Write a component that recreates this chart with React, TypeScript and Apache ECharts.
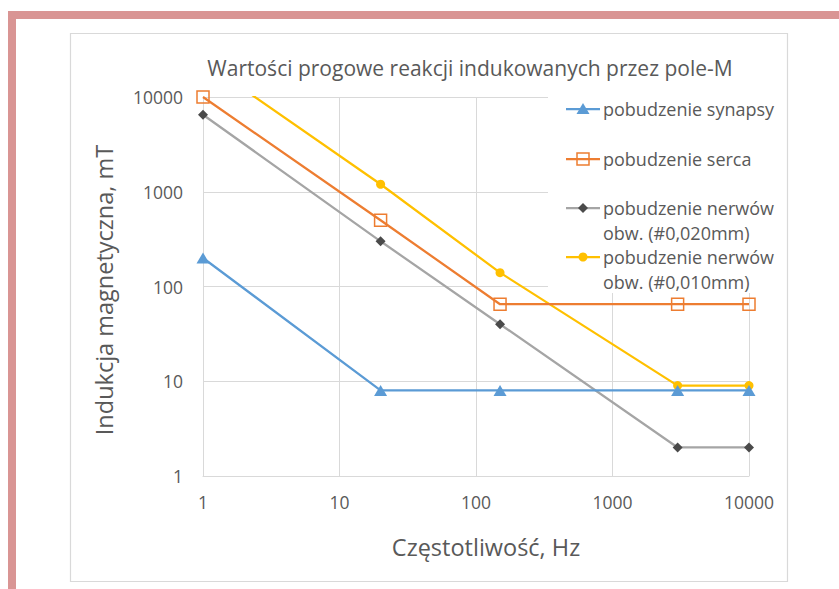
import React, { useEffect, useRef } from "react";
import * as echarts from "echarts";

const freqs = [1, 20, 150, 3000, 10000];
const synapsy = [200, 8, 8, 8, 8];
const serca = [10000, 500, 65, 65, 65];
const nerwy020 = [6500, 300, 40, 2, 2];
const nerwy010 = [24000, 1200, 140, 9, 9];

const seriesNames = [
  "pobudzenie synapsy",
  "pobudzenie serca",
  "pobudzenie nerwów\nobw. (#0,020mm)",
  "pobudzenie nerwów\nobw. (#0,010mm)",
];
const titleText = "Wartości progowe reakcji indukowanych przez pole-M";
const xName = "Częstotliwość, Hz";
const yName = "Indukcja magnetyczna, mT";

const FONT = "'Open Sans', 'Noto Sans', sans-serif";
const TXT = "#595959";
const BLUE = "#5B9BD5";
const ORANGE = "#ED7D31";
const GRAY = "#A5A5A5";
const DARK = "#4a4a4a";
const YELLOW = "#FFC000";

const pairs = (ys: number[]) => freqs.map((f, i) => [f, ys[i]]);

export default function App() {
  const ref = useRef<HTMLDivElement>(null);
  useEffect(() => {
    if (!ref.current) return;
    const chart = echarts.init(ref.current, null, { renderer: "svg" });

    const legendYs = [109, 159, 208, 257];
    const legendItems: any[] = [
      {
        type: "rect",
        shape: { x: 548, y: 86, width: 236, height: 207 },
        style: { fill: "#ffffff" },
        z: 1,
        silent: true,
      },
    ];
    const lx1 = 566, lx2 = 600, mx = 583, tx = 603;
    const lineColors = [BLUE, ORANGE, GRAY, YELLOW];
    legendYs.forEach((y, i) => {
      legendItems.push({
        type: "line",
        shape: { x1: lx1, y1: y, x2: lx2, y2: y },
        style: { stroke: lineColors[i], lineWidth: 2.25 },
        z: 5,
      });
      if (i === 0) {
        legendItems.push({
          type: "polygon",
          shape: { points: [[mx, y - 6], [mx + 6.5, y + 5], [mx - 6.5, y + 5]] },
          style: { fill: BLUE },
          z: 6,
        });
      } else if (i === 1) {
        legendItems.push({
          type: "rect",
          shape: { x: mx - 6, y: y - 6, width: 12, height: 12 },
          style: { fill: "transparent", stroke: ORANGE, lineWidth: 1.5 },
          z: 6,
        });
      } else if (i === 2) {
        legendItems.push({
          type: "polygon",
          shape: { points: [[mx, y - 5], [mx + 5, y], [mx, y + 5], [mx - 5, y]] },
          style: { fill: DARK },
          z: 6,
        });
      } else {
        legendItems.push({
          type: "circle",
          shape: { cx: mx, cy: y, r: 4.5 },
          style: { fill: YELLOW },
          z: 6,
        });
      }
      legendItems.push({
        type: "text",
        x: tx,
        y: y - 12.5,
        z: 6,
        style: {
          text: seriesNames[i],
          font: `18px ${FONT}`,
          fill: TXT,
          lineHeight: 25,
          verticalAlign: "top",
          align: "left",
        },
      });
    });

    const fmt = (v: number) => String(v);

    const option: any = {
      animation: false,
      backgroundColor: "#ffffff",
      grid: { left: 203, top: 97, width: 546, height: 379, containLabel: false },
      xAxis: {
        type: "log",
        logBase: 10,
        min: 1,
        max: 10000,
        axisLine: { show: true, lineStyle: { color: "#D9D9D9", width: 1 } },
        axisTick: { show: false },
        splitLine: { show: true, lineStyle: { color: "#D9D9D9", width: 1 } },
        minorTick: { show: false },
        axisLabel: { color: TXT, fontSize: 17.5, fontFamily: FONT, margin: 17, formatter: fmt },
      },
      yAxis: {
        type: "log",
        logBase: 10,
        min: 1,
        max: 10000,
        axisLine: { show: true, lineStyle: { color: "#D9D9D9", width: 1 } },
        axisTick: { show: false },
        splitLine: { show: true, lineStyle: { color: "#D9D9D9", width: 1 } },
        axisLabel: { color: TXT, fontSize: 17.5, fontFamily: FONT, margin: 20, formatter: fmt },
      },
      series: [
        {
          name: seriesNames[0],
          type: "line",
          data: pairs(synapsy),
          symbol: "triangle",
          symbolSize: [13, 11],
          lineStyle: { color: BLUE, width: 2.25 },
          itemStyle: { color: BLUE },
          z: 4,
        },
        {
          name: seriesNames[1],
          type: "line",
          data: pairs(serca),
          symbol: "rect",
          symbolSize: 12,
          lineStyle: { color: ORANGE, width: 2.25 },
          itemStyle: { color: "rgba(0,0,0,0)", borderColor: ORANGE, borderWidth: 1.5 },
          z: 3,
        },
        {
          name: seriesNames[2],
          type: "line",
          data: pairs(nerwy020),
          symbol: "diamond",
          symbolSize: 10,
          lineStyle: { color: GRAY, width: 2.25 },
          itemStyle: { color: DARK },
          z: 2,
        },
        {
          name: seriesNames[3],
          type: "line",
          data: pairs(nerwy010),
          symbol: "circle",
          symbolSize: 9,
          lineStyle: { color: YELLOW, width: 2.25 },
          itemStyle: { color: YELLOW },
          clip: true,
          z: 1,
        },
      ],
      graphic: [
        { type: "rect", shape: { x: 8, y: 11, width: 831, height: 8 }, style: { fill: "#D99594" }, z: 100 },
        { type: "rect", shape: { x: 8, y: 11, width: 8, height: 578 }, style: { fill: "#D99594" }, z: 100 },
        {
          type: "rect",
          shape: { x: 70.5, y: 33.5, width: 717, height: 548 },
          style: { fill: "transparent", stroke: "#D9D9D9", lineWidth: 1.2 },
          z: -1,
          silent: true,
        },
        {
          type: "text",
          x: 470,
          y: 68,
          style: { text: titleText, font: `21px ${FONT}`, fill: TXT, align: "center", verticalAlign: "middle" },
        },
        {
          type: "text",
          x: 486,
          y: 547,
          style: { text: xName, font: `23.5px ${FONT}`, fill: TXT, align: "center", verticalAlign: "middle" },
        },
        {
          type: "text",
          x: 104,
          y: 290,
          rotation: Math.PI / 2,
          style: { text: yName, font: `23.5px ${FONT}`, fill: TXT, align: "center", verticalAlign: "middle" },
        },
        ...legendItems,
      ],
    };
    chart.setOption(option);
    return () => chart.dispose();
  }, []);
  return (
    <div
      ref={ref}
      style={{ position: "absolute", left: 0, top: 0, width: 839, height: 589 }}
    />
  );
}
